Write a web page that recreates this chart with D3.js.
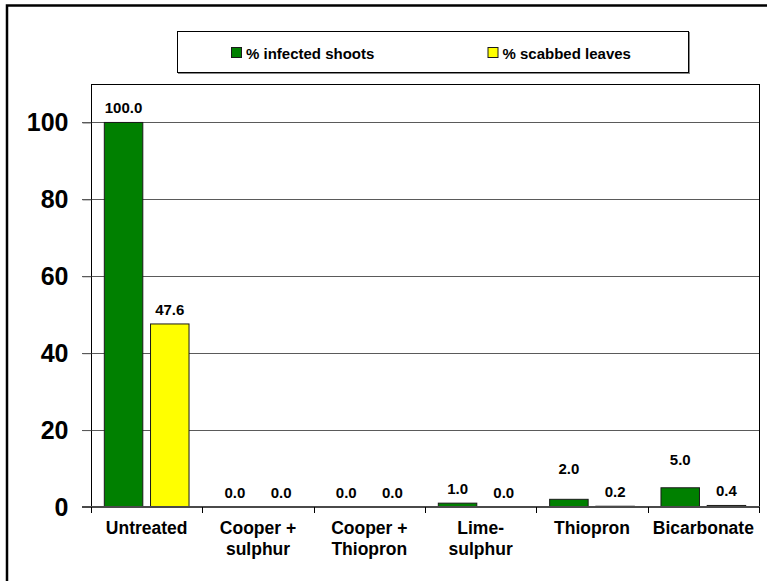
<!DOCTYPE html>
<html>
<head>
<meta charset="utf-8">
<script src="https://cdn.jsdelivr.net/npm/d3@7"></script>
<style>
  html, body { margin: 0; padding: 0; background: #fff; }
  svg { display: block; font-family: "Liberation Sans", Arial, sans-serif; }
</style>
</head>
<body>
<svg id="chart" width="767" height="581"></svg>
<script>
// ---- data ----
const categories = ["Untreated", "Cooper + sulphur", "Cooper + Thiopron", "Lime- sulphur", "Thiopron", "Bicarbonate"];
const categoryLines = [["Untreated"], ["Cooper +", "sulphur"], ["Cooper +", "Thiopron"], ["Lime-", "sulphur"], ["Thiopron"], ["Bicarbonate"]];
const seriesNames = ["% infected shoots", "% scabbed leaves"];
const infectedShoots = [100.0, 0.0, 0.0, 1.0, 2.0, 5.0];
const scabbedLeaves = [47.6, 0.0, 0.0, 0.0, 0.2, 0.4];
const yTicks = [0, 20, 40, 60, 80, 100];
const seriesColors = ["#008000", "#FFFF00"];

(function () {
// ---- layout ----
const svg = d3.select("#chart");
const pL = 91, pR = 759, pT = 84, pB = 507;

// outer frame
svg.append("rect").attr("x", 7).attr("y", 5.5).attr("width", 800).attr("height", 600)
  .attr("fill", "#fff").attr("stroke", "#000").attr("stroke-width", 2.5);

const x0 = d3.scaleBand().domain(categories).range([pL, pR]).padding(0);
const x1 = d3.scaleBand().domain(seriesNames).range([0, x0.bandwidth()])
  .paddingInner(0.167).paddingOuter(0.288);
const y = d3.scaleLinear().domain([0, 110]).range([pB, pT]);

// gridlines
svg.append("g").selectAll("line").data(yTicks.filter(d => d > 0)).join("line")
  .attr("x1", 82).attr("x2", pR)
  .attr("y1", d => Math.round(y(d)) + 0.5).attr("y2", d => Math.round(y(d)) + 0.5)
  .attr("stroke", "#5a5a5a").attr("stroke-width", 1);

// plot area border (top & right)
svg.append("line").attr("x1", pL).attr("x2", pR + 0.5).attr("y1", pT + 0.5).attr("y2", pT + 0.5)
  .attr("stroke", "#000").attr("stroke-width", 1);
svg.append("line").attr("x1", pR + 0.5).attr("x2", pR + 0.5).attr("y1", pT).attr("y2", pB + 5)
  .attr("stroke", "#000").attr("stroke-width", 1);

// y axis
const yAxis = d3.axisLeft(y).tickValues(yTicks).tickSize(9).tickPadding(14).tickFormat(d3.format("d"));
const gy = svg.append("g").attr("transform", `translate(${pL + 0.5},0)`).call(yAxis);
gy.select(".domain").attr("d", `M0,${pT}V${pB + 6}`).attr("stroke", "#000");
gy.selectAll(".tick line").attr("stroke", "#5a5a5a");
gy.selectAll(".tick text").attr("font-size", 25).attr("font-weight", "bold")
  .attr("font-family", "'Liberation Sans', Arial, sans-serif").attr("fill", "#000");

// bars
const seriesValues = [infectedShoots, scabbedLeaves];
const labelNudge = { "Thiopron|0": -16, "Bicarbonate|0": -14 };
const groups = svg.append("g").selectAll("g").data(categories).join("g")
  .attr("transform", d => `translate(${x0(d)},0)`);
groups.selectAll("rect")
  .data((c, i) => seriesNames.map((s, j) => ({ c, s, j, v: seriesValues[j][i] })).filter(d => d.v > 0))
  .join("rect")
  .attr("x", d => x1(d.s))
  .attr("y", d => y(d.v))
  .attr("width", x1.bandwidth())
  .attr("height", d => pB - y(d.v))
  .attr("fill", d => seriesColors[d.j])
  .attr("stroke", "#1a1a1a").attr("stroke-width", 1);

// value labels
groups.selectAll("text")
  .data((c, i) => seriesNames.map((s, j) => ({ c, s, j, v: seriesValues[j][i] })))
  .join("text")
  .attr("x", d => x1(d.s) + x1.bandwidth() / 2)
  .attr("y", d => y(d.v) - 9 + (labelNudge[d.c + "|" + d.j] || 0))
  .attr("text-anchor", "middle").attr("font-size", 15).attr("font-weight", "bold")
  .text(d => d3.format(".1f")(d.v));

// zero axis line
svg.append("line").attr("x1", 82).attr("x2", pR + 1).attr("y1", pB).attr("y2", pB)
  .attr("stroke", "#4a4a4a").attr("stroke-width", 2);

// category ticks
svg.append("g").selectAll("line").data(categories.map(c => x0(c)).concat([pR])).join("line")
  .attr("x1", d => Math.round(d) + 0.5).attr("x2", d => Math.round(d) + 0.5)
  .attr("y1", pB).attr("y2", pB + 6)
  .attr("stroke", "#000").attr("stroke-width", 1);

// category labels
const cl = svg.append("g").selectAll("text").data(categories).join("text")
  .attr("x", d => x0(d) + x0.bandwidth() / 2)
  .attr("y", 534)
  .attr("text-anchor", "middle").attr("font-size", 17.5).attr("font-weight", "bold");
cl.selectAll("tspan").data((d, i) => categoryLines[i]).join("tspan")
  .attr("x", function () { return d3.select(this.parentNode).attr("x"); })
  .attr("dy", (d, i) => i === 0 ? 0 : 21)
  .text(d => d);

// legend
const lg = svg.append("g");
lg.append("rect").attr("x", 178.5).attr("y", 32.5).attr("width", 511).attr("height", 41)
  .attr("fill", "none").attr("stroke", "#888").attr("stroke-width", 1);
lg.append("rect").attr("x", 177.5).attr("y", 31.5).attr("width", 511).attr("height", 41)
  .attr("fill", "#fff").attr("stroke", "#000").attr("stroke-width", 1);
const legendX = [231, 487.5];
seriesNames.forEach((s, j) => {
  lg.append("rect").attr("x", legendX[j] + 0.5).attr("y", 47.5).attr("width", 10).attr("height", 10)
    .attr("fill", seriesColors[j]).attr("stroke", "#1a1a1a").attr("stroke-width", 1);
  lg.append("text").attr("x", legendX[j] + 15).attr("y", 59)
    .attr("font-size", 15).attr("font-weight", "bold").text(s);
});
})();
</script>
</body>
</html>
